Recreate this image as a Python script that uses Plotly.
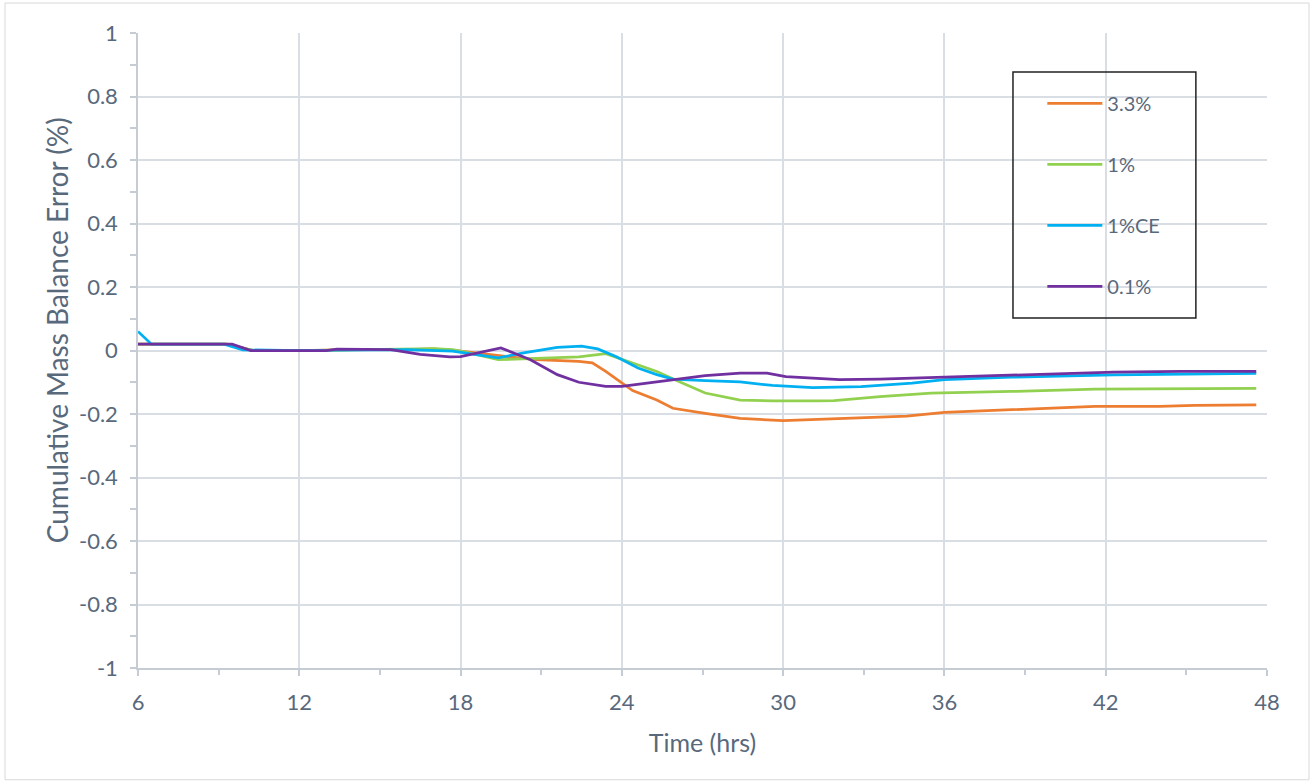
import plotly.graph_objects as go

# ---- data ----
t_33 = [6, 9.3, 9.8, 10.3, 12, 14, 16, 17, 18, 19.1, 20.8, 22.4, 22.9, 23.4, 24, 24.4, 25.3, 25.9,
        27.1, 28.4, 30, 31.3, 32.3, 34.6, 36, 39.8, 41.6, 44, 45.3, 47.6]
v_33 = [0.02, 0.02, 0.01, 0.0, 0.0, 0.003, 0.003, 0.005, -0.002, -0.013, -0.029, -0.034, -0.039, -0.066,
        -0.103, -0.126, -0.156, -0.182, -0.198, -0.214, -0.221, -0.217, -0.214, -0.207, -0.195, -0.181,
        -0.176, -0.176, -0.173, -0.171]

t_1 = [6, 9.3, 9.8, 10.3, 12, 14, 16, 17, 17.7, 18.2, 19.4, 20.4, 22.4, 23.4, 24.2, 25.3, 26.1, 27.1,
       28.4, 29.6, 31.3, 31.9, 33.6, 35.5, 38.5, 41.6, 47.6]
v_1 = [0.02, 0.02, 0.01, 0.0, 0.0, 0.003, 0.006, 0.006, 0.003, -0.005, -0.029, -0.026, -0.02, -0.01,
       -0.034, -0.066, -0.097, -0.134, -0.156, -0.159, -0.159, -0.158, -0.145, -0.134, -0.129, -0.122, -0.119]

t_1ce = [6, 6.5, 9.2, 9.9, 12, 14, 16, 17.7, 18.5, 19.4, 20.4, 21.6, 22.5, 23.1, 23.8, 24.6, 25.3, 25.9,
         27.1, 28.4, 29.6, 31.1, 32.9, 34.8, 36, 38.5, 42.3, 44.8, 47.6]
v_1ce = [0.06, 0.02, 0.02, 0.002, 0.0, 0.002, 0.003, -0.002, -0.013, -0.023, -0.007, 0.01, 0.014, 0.005,
         -0.02, -0.055, -0.076, -0.09, -0.095, -0.099, -0.11, -0.117, -0.114, -0.103, -0.092, -0.084,
         -0.077, -0.075, -0.072]

t_01 = [6, 9.5, 10.2, 12, 13.0, 13.4, 15.4, 16.5, 17.6, 18, 19.5, 20.6, 21.6, 22.4, 23.4, 24, 24.9, 25.9,
        27.1, 28.4, 29.4, 30.1, 31.3, 32.1, 33.6, 36, 39.8, 42.3, 44.8, 47.6]
v_01 = [0.02, 0.02, 0.0, 0.0, 0.0, 0.004, 0.003, -0.012, -0.02, -0.019, 0.008, -0.029, -0.076, -0.10,
        -0.113, -0.113, -0.103, -0.092, -0.079, -0.071, -0.071, -0.082, -0.089, -0.092, -0.09, -0.084,
        -0.074, -0.068, -0.066, -0.066]

series_names = ["3.3%", "1%", "1%CE", "0.1%"]
series_colors = ["#ED7D31", "#92D050", "#00B0F0", "#7030A0"]
series_t = [t_33, t_1, t_1ce, t_01]
series_v = [v_33, v_1, v_1ce, v_01]

x_ticks = [6, 12, 18, 24, 30, 36, 42, 48]
y_ticks = [1, 0.8, 0.6, 0.4, 0.2, 0, -0.2, -0.4, -0.6, -0.8, -1]

x_title = "Time (hrs)"
y_title = "Cumulative Mass Balance Error (%)"

TEXT = "#59697c"
GRID = "#d9dee4"
AXIS = "#c5ccd4"
FONT = "Lato"

fig = go.Figure()
for i, (n, c, t, v) in enumerate(zip(series_names, series_colors, series_t, series_v)):
    fig.add_trace(go.Scatter(x=t, y=v, mode="lines", name=n, legendgroup=f"g{i}",
                             line=dict(color=c, width=2.75)))

fig.update_layout(
    width=1314, height=784,
    margin=dict(l=138, r=47, t=33, b=116),
    paper_bgcolor="white", plot_bgcolor="white",
    font=dict(family=FONT, color=TEXT, size=22),
    showlegend=True,
    legend=dict(x=0.801, xanchor="left", y=0.92, yanchor="top",
                bgcolor="rgba(0,0,0,0)", borderwidth=0,
                font=dict(family=FONT, size=20, color=TEXT),
                tracegroupgap=32, itemwidth=55),
    xaxis=dict(range=[6, 48], tickvals=x_ticks, ticktext=[str(v) for v in x_ticks],
               showgrid=True, gridcolor=GRID, gridwidth=1.5,
               showline=True, linecolor=AXIS, linewidth=1.5,
               ticks="outside", ticklen=6, tickcolor=AXIS, tickwidth=1.5,
               minor=dict(dtick=3, tick0=6, ticks="outside", ticklen=5, tickcolor=AXIS, showgrid=False),
               zeroline=False, ticklabelstandoff=8, tickfont=dict(size=22),
               title=dict(text=x_title, font=dict(family=FONT, size=25, color=TEXT), standoff=20)),
    yaxis=dict(range=[-1, 1], tickvals=y_ticks, ticktext=[f"{v:g}" for v in y_ticks],
               showgrid=True, gridcolor=GRID, gridwidth=1.5,
               showline=True, linecolor=AXIS, linewidth=1.5,
               ticks="outside", ticklen=6, tickcolor=AXIS, tickwidth=1.5,
               minor=dict(dtick=0.1, tick0=0, ticks="outside", ticklen=6, tickcolor=AXIS, showgrid=False),
               zeroline=False, ticklabelstandoff=8, tickfont=dict(size=22)),
    annotations=[
        dict(text=y_title, xref="paper", yref="paper", x=-0.0717, y=0.532,
             xanchor="center", yanchor="middle", textangle=-90, showarrow=False,
             font=dict(family=FONT, size=28, color=TEXT)),
    ],
    shapes=[
        dict(type="rect", xref="paper", yref="paper", x0=0.775, x1=0.937, y0=0.551, y1=0.9386,
             line=dict(color="#222222", width=1.5), fillcolor="rgba(0,0,0,0)", layer="above"),
        dict(type="rect", xref="paper", yref="paper", x0=-0.1178, x1=1.0372, y0=-0.176, y1=1.0472,
             line=dict(color="#d9d9d9", width=1), fillcolor="rgba(0,0,0,0)", layer="below"),
    ],
)

fig.write_html("out.html", config={"displayModeBar": False},
               post_script="document.body.style.margin='0';")
